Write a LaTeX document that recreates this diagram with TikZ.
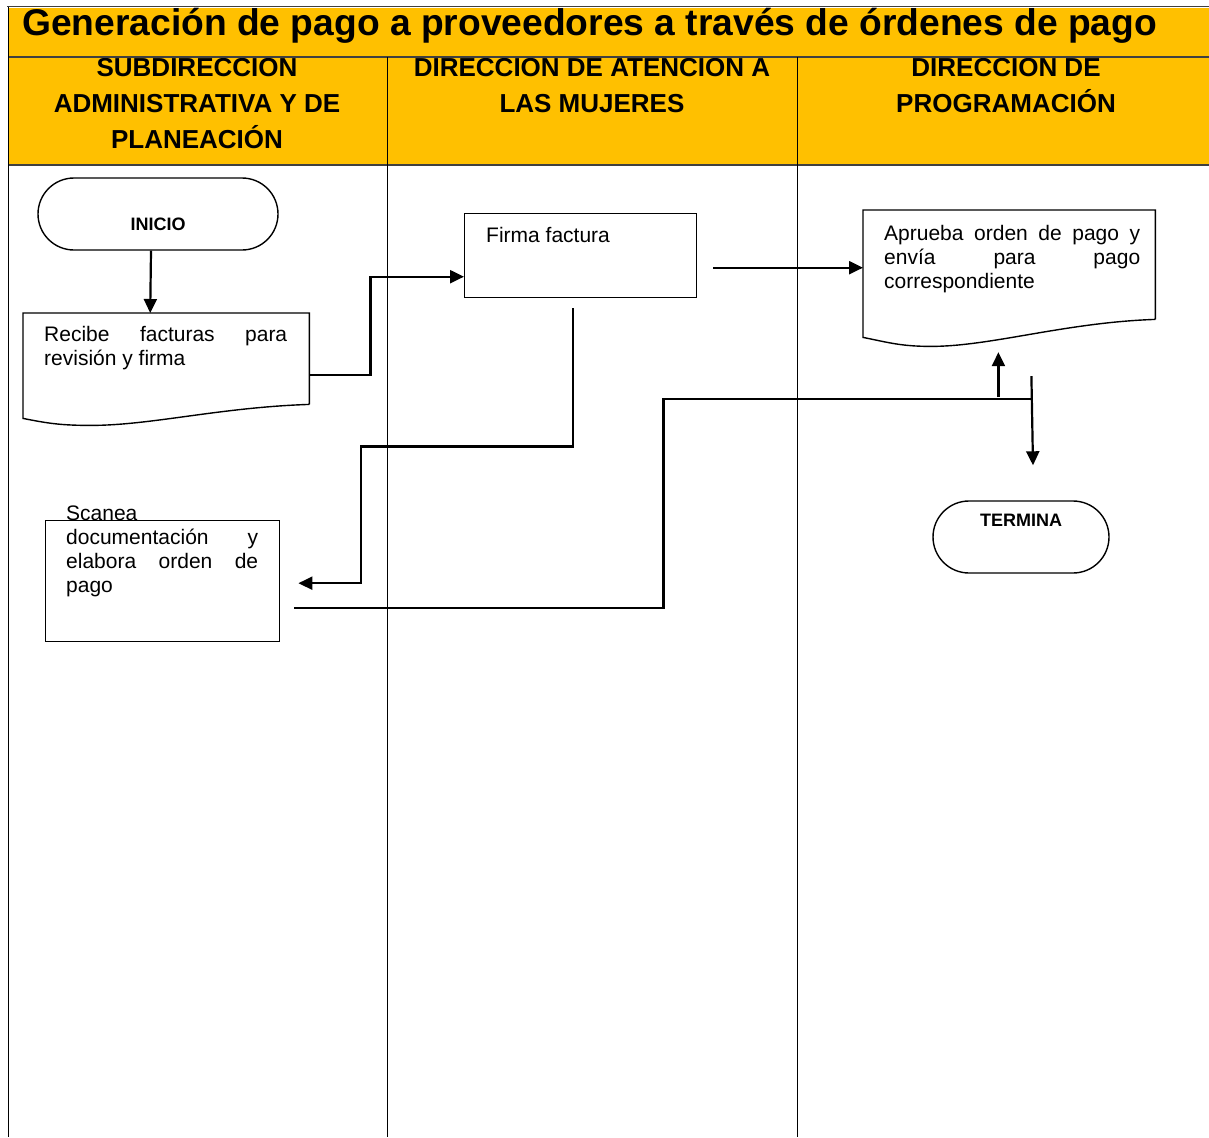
\documentclass[tikz,border=0pt]{standalone}
\usepackage{fontspec}
\setmainfont{Liberation Sans}
\usetikzlibrary{arrows.meta,calc}
\definecolor{bandorange}{HTML}{FFC000}
\hyphenpenalty=10000
\exhyphenpenalty=10000

% outline of a document step: node name, drop of the left corner, depth of the wave
\newcommand{\docborder}[3]{%
  \draw[line width=1.4pt] (#1.south east) -- (#1.north east) -- (#1.north west) -- ([yshift=-#2]#1.south west)
    .. controls +(25pt,-5pt) and +(-30pt,0pt) .. ([xshift=68pt,yshift=-#3]#1.south west)
    .. controls +(60pt,0pt) and +(-90pt,-3pt) .. (#1.south east);}

\begin{document}
\begin{tikzpicture}[x=1pt,y=-1pt,>={Triangle[length=14pt,width=13pt]}]
    \tikzstyle{band}=[fill=bandorange, draw=none]
    \tikzstyle{rule}=[draw=black!75, line width=1.6pt]
    \tikzstyle{lane}=[draw=black, line width=1pt]
    \tikzstyle{lane title}=[font=\fontsize{26}{36}\selectfont\bfseries, align=center, anchor=north, inner sep=0pt]
    \tikzstyle{terminal}=[draw, line width=1.4pt, rounded corners=36pt, minimum height=72pt, inner sep=0pt]
    \tikzstyle{terminal text}=[font=\fontsize{18}{22}\selectfont\bfseries, inner sep=0pt]
    \tikzstyle{process}=[draw, line width=1.4pt, rectangle, inner sep=0pt, anchor=north west]
    \tikzstyle{document}=[process, draw=none]
    \tikzstyle{step text}=[font=\fontsize{21}{24}\selectfont, align=justify, inner sep=0pt, anchor=north west]
    \tikzstyle{flow}=[->, line width=2.2pt]

    \useasboundingbox (0,0) rectangle (1209,1137);

    % Draw the header with the three lanes
    \path[band] (8,57) rectangle (1209,165);
    \node[lane title] (lane-sub) at (197,53) {SUBDIRECCIÓN\\ADMINISTRATIVA Y DE\\PLANEACIÓN};
    \node[lane title] (lane-dam) at (592,53) {DIRECCIÓN DE ATENCIÓN A\\LAS MUJERES};
    \node[lane title] (lane-dp) at (1006,53) {DIRECCIÓN DE\\PROGRAMACIÓN};
    \path[band] (8,8) rectangle (1209,57);
    \node[font=\fontsize{37.2}{40}\selectfont\bfseries, anchor=base west, inner sep=0pt] (title) at (22,36)
        {Generación de pago a proveedores a través de órdenes de pago};

    \draw[rule, line width=1pt] (7,7) -- (1209,7);
    \draw[rule] (8,57) -- (1209,57);
    \draw[rule] (8,165) -- (1209,165);
    \draw[lane] (8,7) -- (8,1137);
    \foreach \x in {387,797}
        \draw[lane] (\x,57) -- (\x,1137);

    % Draw the steps
    \node[terminal, minimum width=240pt] (inicio) at (158,214) {};
    \node[terminal text] (inicio-txt) at ([yshift=-10pt]inicio.center) {INICIO};

    \node[document, minimum width=285pt, minimum height=90pt] (recibe) at (23,313) {};
    \docborder{recibe}{14pt}{21pt}
    \node[step text, text width=243pt] (recibe-txt) at ([xshift=21pt,yshift=-13pt]recibe.north west)
        {Recibe facturas para revisión y firma};

    \node[process, minimum width=232pt, minimum height=84pt] (firma) at (464,213) {};
    \node[step text, text width=190pt] (firma-txt) at ([xshift=22pt,yshift=-14pt]firma.north west) {Firma factura};

    \node[document, minimum width=291pt, minimum height=108pt] (aprueba) at (863,210) {};
    \docborder{aprueba}{18pt}{27pt}
    \node[step text, text width=256pt] (aprueba-txt) at ([xshift=21pt,yshift=-15pt]aprueba.north west)
        {Aprueba orden de pago y\linebreak envía para pago correspondiente};

    \node[process, minimum width=234pt, minimum height=121pt] (scanea) at (45,520) {};
    \node[step text, text width=192pt] (scanea-txt) at ([xshift=21pt,yshift=14pt]scanea.north west)
        {Scanea documentación y elabora orden de pago};

    \node[terminal, minimum width=176pt] (termina) at (1021,537) {};
    \node[terminal text] (termina-txt) at ([yshift=17pt]termina.center) {TERMINA};

    % Connect the steps
    \draw[flow] ([xshift=-7pt]inicio.south) -- ([xshift=-16pt]recibe.north);
    \draw[flow] ([yshift=-16pt]recibe.east) -- ++(61,0) |- ([yshift=-21pt]firma.west);
    \draw[flow] ([xshift=16pt,yshift=-12pt]firma.east) coordinate (f-out) -- (f-out -| aprueba.west);
    \draw[flow] ([xshift=-8pt,yshift=-10pt]firma.south) -- ++(0,138) -- ++(-212,0)
        |- ([xshift=18pt,yshift=-2pt]scanea.east);
    \draw[line width=2.2pt] ([xshift=14pt,yshift=-27pt]scanea.east) -- ++(369,0) -- ++(0,-209)
        -- ++(368,0) coordinate (join);
    \draw[flow] ([xshift=-33pt,yshift=2pt]join) -- ++(0,-45);
    \draw[flow] ([yshift=23pt]join) -- ([xshift=12pt,yshift=35pt]termina.north);

\end{tikzpicture}
\end{document}
